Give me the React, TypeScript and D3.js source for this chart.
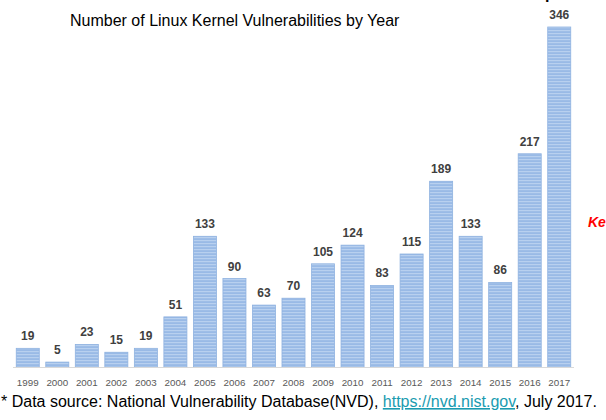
import React from "react";
import * as d3 from "d3";

const years = ["1999","2000","2001","2002","2003","2004","2005","2006","2007","2008","2009","2010","2011","2012","2013","2014","2015","2016","2017"];
const counts = [19,5,23,15,19,51,133,90,63,70,105,124,83,115,189,133,86,217,346];
const title = "Number of Linux Kernel Vulnerabilities by Year";

const W = 606, H = 420;

export default function App() {
  const x = d3.scaleBand<string>().domain(years).range([13, 574]).paddingInner(0.22).paddingOuter(0.11);
  const y = d3.scaleLinear().domain([0, 346]).range([367, 27]);
  return (
    <svg width={W} height={H} style={{ position: "absolute", left: 0, top: 0, background: "#fff" }}>
      <defs>
        <pattern id="stripe" patternUnits="userSpaceOnUse" width={6} height={3}>
          <rect width={6} height={3} fill="#99bae6" />
          <rect width={6} height={1.2} fill="#b8d0ef" />
        </pattern>
      </defs>
      <text x={70} y={26} fontFamily="Liberation Sans, Arial, sans-serif" fontSize={16} fill="#000">{title}</text>
      <text x={545} y={-1} fontFamily="Liberation Sans, Arial, sans-serif" fontSize={16} fontWeight="bold" fill="#000">p</text>
      {years.map((yr, i) => (
        <g key={yr}>
          <rect x={x(yr)} y={y(counts[i])} width={x.bandwidth()} height={y(0) - y(counts[i])} fill="url(#stripe)" stroke="#8fb2e0" strokeWidth={0.8} />
          <text x={(x(yr) as number) + x.bandwidth() / 2} y={y(counts[i]) - 8} textAnchor="middle" fontFamily="Liberation Sans, Arial, sans-serif" fontWeight="bold" fontSize={12} fill="#404040">{counts[i]}</text>
          <text x={(x(yr) as number) + x.bandwidth() / 2} y={386} textAnchor="middle" fontFamily="Liberation Sans, Arial, sans-serif" fontSize={9.8} fill="#595959">{yr}</text>
        </g>
      ))}
      <line x1={13} x2={574} y1={367.5} y2={367.5} stroke="#d9d9d9" strokeWidth={1} />
      <text x={588} y={227} fontFamily="Liberation Sans, Arial, sans-serif" fontSize={14} fontWeight="bold" fontStyle="italic" fill="#ff0000">Ke</text>
      <text x={1} y={407} fontFamily="Liberation Sans, Arial, sans-serif" fontSize={16} fill="#000">
        * Data source: National Vulnerability Database(NVD), <tspan fill="#1a9bb0" textDecoration="underline">https://nvd.nist.gov</tspan>, July 2017.
      </text>
    </svg>
  );
}
